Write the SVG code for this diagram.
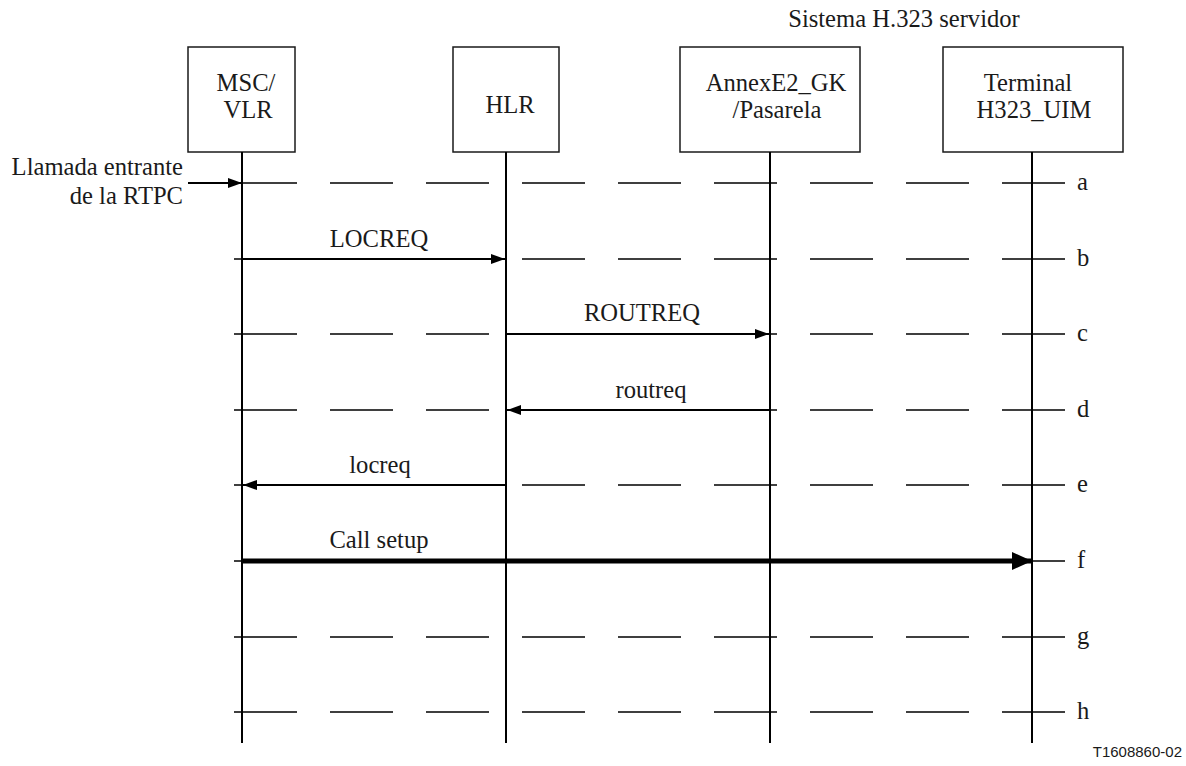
<svg xmlns="http://www.w3.org/2000/svg" width="1186" height="766" viewBox="0 0 1186 766">
<defs>
<style>
.box{fill:#fff;stroke:#1a1a1a;stroke-width:1.5}
.life{stroke:#000;stroke-width:2}
.dash{stroke:#000;stroke-width:1.3;stroke-dasharray:63 33;fill:none}
.msg{stroke:#000;stroke-width:2;fill:none}
</style>
<marker id="ah" viewBox="0 0 14 10" refX="14" refY="5" markerWidth="14" markerHeight="10" markerUnits="userSpaceOnUse" orient="auto">
<path d="M0,0 L14,5 L0,10 Z" fill="#000"/>
</marker>
<marker id="ahb" viewBox="0 0 20 18" refX="20" refY="9" markerWidth="20" markerHeight="18" markerUnits="userSpaceOnUse" orient="auto">
<path d="M0,0 L20,9 L0,18 Z" fill="#000"/>
</marker>
</defs>
<rect width="1186" height="766" fill="#fff"/>
<text x="904" y="27" font-family="Liberation Serif" font-size="24.6" text-anchor="middle" fill="#1a1a1a">Sistema H.323 servidor</text>
<g id="msc">
<rect class="box" x="188" y="47" width="107" height="105"/>
<text x="246" y="91" font-family="Liberation Serif" font-size="24.6" text-anchor="middle" fill="#1a1a1a">MSC/</text>
<text x="248" y="118" font-family="Liberation Serif" font-size="24.6" text-anchor="middle" fill="#1a1a1a">VLR</text>
<line class="life" x1="242" y1="152" x2="242" y2="743"/>
</g>
<g id="hlr">
<rect class="box" x="453" y="47" width="106" height="105"/>
<text x="510" y="113" font-family="Liberation Serif" font-size="24.6" text-anchor="middle" fill="#1a1a1a">HLR</text>
<line class="life" x1="506" y1="152" x2="506" y2="743"/>
</g>
<g id="gk">
<rect class="box" x="680" y="47" width="180" height="105"/>
<text x="776" y="91" font-family="Liberation Serif" font-size="24.6" text-anchor="middle" fill="#1a1a1a">AnnexE2_GK</text>
<text x="777" y="118" font-family="Liberation Serif" font-size="24.6" text-anchor="middle" fill="#1a1a1a">/Pasarela</text>
<line class="life" x1="770" y1="152" x2="770" y2="743"/>
</g>
<g id="term">
<rect class="box" x="943" y="47" width="180" height="105"/>
<text x="1028" y="91" font-family="Liberation Serif" font-size="24.6" text-anchor="middle" fill="#1a1a1a">Terminal</text>
<text x="1034" y="118" font-family="Liberation Serif" font-size="24.6" text-anchor="middle" fill="#1a1a1a">H323_UIM</text>
<line class="life" x1="1032" y1="152" x2="1032" y2="743"/>
</g>
<g id="rows">
<path class="dash" d="M234,183H1065M234,259H1065M234,334H1065M234,410H1065M234,485H1065M234,561H1065M234,637H1065M234,712H1065"/>
<text x="1077" y="190" font-family="Liberation Serif" font-size="24.6" fill="#1a1a1a">a</text>
<text x="1077" y="266" font-family="Liberation Serif" font-size="24.6" fill="#1a1a1a">b</text>
<text x="1077" y="341" font-family="Liberation Serif" font-size="24.6" fill="#1a1a1a">c</text>
<text x="1077" y="417" font-family="Liberation Serif" font-size="24.6" fill="#1a1a1a">d</text>
<text x="1077" y="492" font-family="Liberation Serif" font-size="24.6" fill="#1a1a1a">e</text>
<text x="1077" y="568" font-family="Liberation Serif" font-size="24.6" fill="#1a1a1a">f</text>
<text x="1077" y="644" font-family="Liberation Serif" font-size="24.6" fill="#1a1a1a">g</text>
<text x="1077" y="719" font-family="Liberation Serif" font-size="24.6" fill="#1a1a1a">h</text>
</g>
<g id="connectors">
<line class="msg" x1="188" y1="183" x2="242" y2="183" marker-end="url(#ah)"/>
<line class="msg" x1="242" y1="259" x2="505" y2="259" marker-end="url(#ah)"/>
<line class="msg" x1="506" y1="334" x2="769" y2="334" marker-end="url(#ah)"/>
<line class="msg" x1="770" y1="410" x2="507" y2="410" marker-end="url(#ah)"/>
<line class="msg" x1="506" y1="485" x2="243" y2="485" marker-end="url(#ah)"/>
<line x1="242" y1="561" x2="1032" y2="561" stroke="#000" stroke-width="5" marker-end="url(#ahb)"/>
</g>
<g id="labels">
<text x="183" y="175" font-family="Liberation Serif" font-size="24.6" text-anchor="end" fill="#1a1a1a">Llamada entrante</text>
<text x="183" y="204" font-family="Liberation Serif" font-size="24.6" text-anchor="end" fill="#1a1a1a">de la RTPC</text>
<text x="379" y="247" font-family="Liberation Serif" font-size="24.6" text-anchor="middle" fill="#1a1a1a">LOCREQ</text>
<text x="642" y="321" font-family="Liberation Serif" font-size="24.6" text-anchor="middle" fill="#1a1a1a">ROUTREQ</text>
<text x="651" y="398" font-family="Liberation Serif" font-size="24.6" text-anchor="middle" fill="#1a1a1a">routreq</text>
<text x="380" y="473" font-family="Liberation Serif" font-size="24.6" text-anchor="middle" fill="#1a1a1a">locreq</text>
<text x="379" y="548" font-family="Liberation Serif" font-size="24.6" text-anchor="middle" fill="#1a1a1a">Call setup</text>
</g>
<text x="1182" y="757" text-anchor="end" font-family="Liberation Sans" font-size="15" fill="#1a1a1a">T1608860-02</text>
</svg>
